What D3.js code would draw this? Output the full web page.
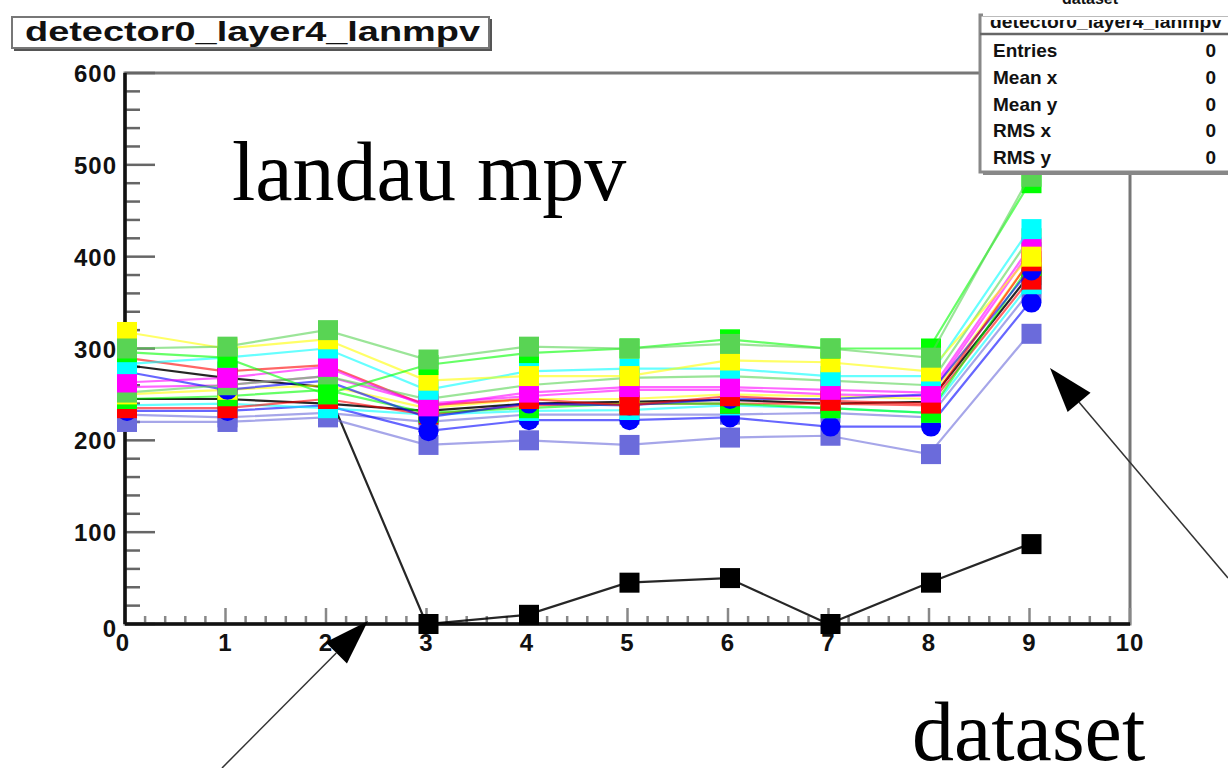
<!DOCTYPE html>
<html>
<head>
<meta charset="utf-8">
<script src="https://cdn.jsdelivr.net/npm/d3@7"></script>
<style>
  body { margin: 0; background: #fff; }
  svg { display: block; }
  .lab { font-family: "Liberation Sans", Arial, sans-serif; font-weight: bold; fill: #111; }
  .big { font-family: "Liberation Serif", "Times New Roman", serif; fill: #000; }
</style>
</head>
<body>
<div id="chart"></div>
<script>
// chart data
var datasets = [0, 1, 2, 3, 4, 5, 6, 7, 8, 9];
var xTicks = [0, 1, 2, 3, 4, 5, 6, 7, 8, 9, 10];
var yTicks = [0, 100, 200, 300, 400, 500, 600];

var chBlack    = [282, 268, 258, 0, 10, 45, 50, 0, 45, 87];
var chRed      = [290, 275, 282, 238, 245, 238, 248, 243, 240, 395];
var chGreen    = [296, 290, 250, 282, 295, 300, 310, 300, 300, 480];
var chBlue     = [275, 255, 265, 225, 240, 238, 245, 245, 250, 385];
var chYellow   = [318, 300, 310, 265, 270, 270, 287, 285, 275, 400];
var chMagenta  = [263, 268, 280, 237, 252, 258, 258, 255, 252, 410];
var chCyan     = [283, 290, 300, 255, 275, 278, 278, 270, 270, 430];
var chGreen8   = [300, 302, 320, 288, 302, 300, 305, 300, 290, 487];
var chBlue9    = [220, 220, 225, 195, 200, 195, 203, 205, 185, 316];
var chBlack2   = [245, 245, 240, 232, 240, 242, 244, 240, 242, 380];
var chRed2     = [235, 235, 245, 228, 238, 240, 240, 240, 238, 375];
var chGreen2   = [245, 248, 255, 230, 235, 240, 240, 235, 230, 390];
var chBlue2    = [232, 232, 238, 210, 222, 222, 225, 215, 215, 350];
var chYellow2  = [250, 255, 260, 235, 245, 245, 250, 248, 245, 395];
var chMagenta2 = [258, 260, 270, 240, 248, 255, 255, 250, 248, 405];
var chCyan2    = [238, 240, 235, 228, 232, 233, 238, 235, 230, 370];
var chGreen82  = [252, 260, 270, 245, 260, 268, 270, 265, 260, 420];
var chBlue92   = [228, 225, 230, 220, 228, 228, 228, 230, 225, 362];

var statNames = ["Entries", "Mean x", "Mean y", "RMS x", "RMS y"];
var statValues = [0, 0, 0, 0, 0];

// ROOT default colour table 1..9
var rootCol = {1: "#000000", 2: "#ff0000", 3: "#00ff00", 4: "#0000ff", 5: "#ffff00",
               6: "#ff00ff", 7: "#00ffff", 8: "#59d454", 9: "#6b6bdb"};

var series = [
  {v: chBlack, c: 1}, {v: chBlack2, c: 1},
  {v: chBlue92, c: 9}, {v: chBlue9, c: 9},
  {v: chBlue2, c: 4}, {v: chCyan2, c: 7},
  {v: chRed2, c: 2}, {v: chGreen2, c: 3},
  {v: chYellow2, c: 5}, {v: chMagenta2, c: 6},
  {v: chBlue, c: 4}, {v: chRed, c: 2},
  {v: chGreen82, c: 8}, {v: chMagenta, c: 6},
  {v: chCyan, c: 7}, {v: chYellow, c: 5},
  {v: chGreen, c: 3}, {v: chGreen8, c: 8}
];

var width = 1228, height = 768;
var svg = d3.select("#chart").append("svg")
  .attr("width", width)
  .attr("height", height);

var x = d3.scaleLinear().domain([0, 10]).range([125, 1130]);
var y = d3.scaleLinear().domain([0, 600]).range([624, 73]);

// frame
svg.append("rect")
  .attr("x", x(0)).attr("y", y(600))
  .attr("width", x(10) - x(0)).attr("height", y(0) - y(600))
  .attr("fill", "none").attr("stroke", "#777").attr("stroke-width", 3);

// minor / major ticks
var yMinor = d3.range(0, 601, 20);
svg.append("g").selectAll("line").data(yMinor).enter().append("line")
  .attr("x1", x(0)).attr("x2", d => x(0) + (d % 100 === 0 ? 30 : 15))
  .attr("y1", d => y(d)).attr("y2", d => y(d))
  .attr("stroke", "#666").attr("stroke-width", 2.5);

var xMinor = d3.range(0, 50.5, 1).map(d => d / 5);
svg.append("g").selectAll("line").data(xMinor).enter().append("line")
  .attr("x1", d => x(d)).attr("x2", d => x(d))
  .attr("y1", y(0)).attr("y2", d => y(0) - (Math.abs(d - Math.round(d)) < 1e-6 ? 16 : 8))
  .attr("stroke", "#888").attr("stroke-width", 2.5);

// axis lines
svg.append("line").attr("x1", x(0)).attr("x2", x(0)).attr("y1", y(600)).attr("y2", y(0))
  .attr("stroke", "#111").attr("stroke-width", 3.5);
svg.append("line").attr("x1", x(0)).attr("x2", x(10)).attr("y1", y(0)).attr("y2", y(0))
  .attr("stroke", "#111").attr("stroke-width", 3.5);

// tick labels
svg.append("g").selectAll("text").data(yTicks).enter().append("text")
  .attr("class", "lab")
  .attr("x", 117).attr("y", d => y(d) + 9 + (d === 0 ? 4 : 0))
  .attr("text-anchor", "end")
  .attr("font-size", 24)
  .attr("letter-spacing", 1)
  .text(d => d);

svg.append("g").selectAll("text").data(xTicks).enter().append("text")
  .attr("class", "lab")
  .attr("x", d => x(d) + (d === 0 ? -2 : 0)).attr("y", 651)
  .attr("text-anchor", "middle")
  .attr("font-size", 24)
  .attr("letter-spacing", 1)
  .text(d => d);

// graphs
var line = d3.line().x((d, i) => x(datasets[i])).y(d => y(d));
var plot = svg.append("g");
series.forEach(function(s) {
  var col = rootCol[s.c];
  var g = plot.append("g");
  g.append("path")
    .datum(s.v)
    .attr("d", line)
    .attr("fill", "none")
    .attr("stroke", col)
    .attr("stroke-width", 2.2)
    .attr("stroke-opacity", s.c === 1 ? 0.85 : 0.6);
  if (s.c === 4) {
    g.selectAll("circle").data(s.v).enter().append("circle")
      .attr("cx", (d, i) => x(datasets[i]) + 2)
      .attr("cy", d => y(d))
      .attr("r", 10)
      .attr("fill", col);
  } else {
    g.selectAll("rect").data(s.v).enter().append("rect")
      .attr("x", (d, i) => x(datasets[i]) + 2 - 10)
      .attr("y", d => y(d) - 10)
      .attr("width", 20).attr("height", 20)
      .attr("fill", col);
  }
});

// title box
svg.append("rect").attr("x", 14).attr("y", 19).attr("width", 478).attr("height", 32)
  .attr("fill", "#555");
svg.append("rect").attr("x", 12).attr("y", 17).attr("width", 477).attr("height", 31)
  .attr("fill", "#fff").attr("stroke", "#777").attr("stroke-width", 2);
svg.append("text").attr("class", "lab")
  .attr("x", 25).attr("y", 41)
  .attr("font-size", 27)
  .attr("textLength", 455).attr("lengthAdjust", "spacingAndGlyphs")
  .text("detector0_layer4_lanmpv");

// stats box
svg.append("text").attr("class", "lab")
  .attr("x", 1062).attr("y", 4)
  .attr("font-size", 16).attr("fill", "#333")
  .text("dataset");
var stats = svg.append("g");
stats.append("rect").attr("x", 983).attr("y", 18).attr("width", 260).attr("height", 157)
  .attr("fill", "#888");
stats.append("rect").attr("x", 980).attr("y", 15).attr("width", 260).attr("height", 157)
  .attr("fill", "#fff").attr("stroke", "#888").attr("stroke-width", 3);
stats.append("text").attr("class", "lab")
  .attr("x", 990).attr("y", 28)
  .attr("font-size", 18)
  .attr("textLength", 232).attr("lengthAdjust", "spacingAndGlyphs")
  .text("detector0_layer4_lanmpv");
stats.append("rect").attr("x", 983).attr("y", 8).attr("width", 250).attr("height", 12).attr("fill", "#fff");
stats.append("line").attr("x1", 983).attr("x2", 1228).attr("y1", 16.5).attr("y2", 16.5)
  .attr("stroke", "#bbb").attr("stroke-width", 1);
stats.append("line").attr("x1", 980).attr("x2", 1228).attr("y1", 34).attr("y2", 34)
  .attr("stroke", "#666").attr("stroke-width", 2.5);
stats.selectAll("text.nm").data(statNames).enter().append("text")
  .attr("class", "lab nm")
  .attr("x", 993).attr("y", (d, i) => 57 + i * 26.8)
  .attr("font-size", 19)
  .text(d => d);
stats.selectAll("text.vl").data(statValues).enter().append("text")
  .attr("class", "lab vl")
  .attr("x", 1216).attr("y", (d, i) => 57 + i * 26.8)
  .attr("font-size", 19).attr("text-anchor", "end")
  .text(d => d);

// annotations
svg.append("text").attr("class", "big")
  .attr("x", 232).attr("y", 200)
  .attr("font-size", 84)
  .text("landau mpv");
svg.append("text").attr("class", "big")
  .attr("x", 912).attr("y", 760)
  .attr("font-size", 84)
  .text("dataset");

function arrow(x1, y1, x2, y2) {
  var dx = x2 - x1, dy = y2 - y1, L = Math.sqrt(dx * dx + dy * dy);
  var ux = dx / L, uy = dy / L, hl = 45, hw = 15;
  var bx = x2 - ux * hl, by = y2 - uy * hl;
  svg.append("line").attr("x1", x1).attr("y1", y1).attr("x2", bx).attr("y2", by)
    .attr("stroke", "#333").attr("stroke-width", 1.5);
  svg.append("path")
    .attr("d", "M" + x2 + "," + y2 + "L" + (bx - uy * hw) + "," + (by + ux * hw) +
               "L" + (bx + uy * hw) + "," + (by - ux * hw) + "Z")
    .attr("fill", "#000");
}
arrow(222, 768, 368, 621);
arrow(1228, 578, 1050, 368);
</script>
</body>
</html>
